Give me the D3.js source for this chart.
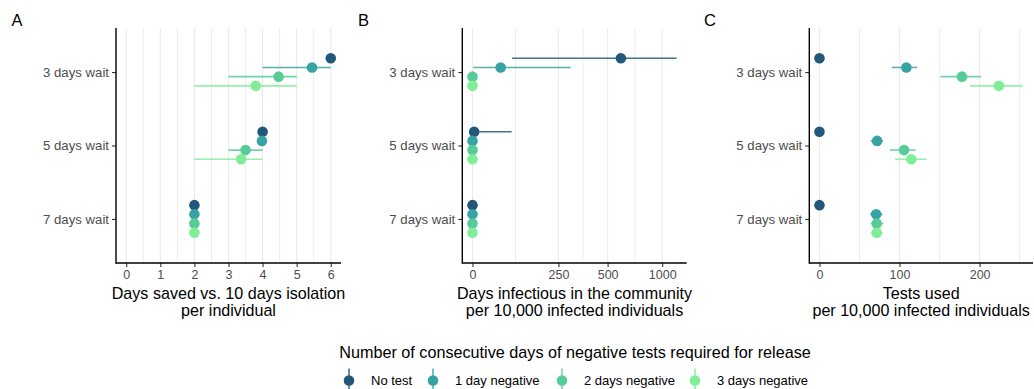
<!DOCTYPE html>
<html>
<head>
<meta charset="utf-8">
<script src="https://cdn.jsdelivr.net/npm/d3@7"></script>
<style>
  html, body { margin: 0; padding: 0; background: #fff; }
  svg { display: block; font-family: "Liberation Sans", Arial, Helvetica, sans-serif; }
</style>
</head>
<body>
<svg id="chart" width="1034" height="389"></svg>
<script>
// ---------------- DATA ----------------
const groups = ["3 days wait", "5 days wait", "7 days wait"];
const series = ["No test", "1 day negative", "2 days negative", "3 days negative"];
const colors = ["#22577A", "#38A3A5", "#57CC99", "#80ED99"];

// Panel A: days saved vs. 10 days isolation (per group: per series [mid, lo, hi])
const savedMid = [[6.0, 5.45, 4.47, 3.80], [4.0, 3.98, 3.50, 3.37], [2.0, 2.0, 2.0, 2.0]];
const savedLo  = [[6.0, 4.0, 3.0, 2.0],    [4.0, 4.0, 3.0, 2.0],    [2.0, 2.0, 2.0, 2.0]];
const savedHi  = [[6.0, 6.0, 5.0, 5.0],    [4.0, 4.0, 4.0, 4.0],    [2.0, 2.0, 2.0, 2.0]];

// Panel B: days infectious in the community per 10,000 infected individuals
const infMid = [[594, 70, 0, 0], [4, 0, 0, 0], [0, 0, 0, 0]];
const infLo  = [[100, 1.5, 0, 0], [0, 0, 0, 0], [0, 0, 0, 0]];
const infHi  = [[1194, 301, 0, 0], [99, 0, 0, 0], [0, 0, 0, 0]];

// Panel C: tests used per 10,000 infected individuals
const testMid = [[0, 108.5, 178, 224], [0, 72, 105.6, 114.7], [0, 70.8, 71.5, 71.5]];
const testLo  = [[0, 90.3, 151, 188],  [0, 64, 88, 94.4],     [0, 63.4, 64, 64]];
const testHi  = [[0, 122, 202, 254],   [0, 79.5, 120, 134],   [0, 78.7, 80, 79]];

const ticksA = [0, 1, 2, 3, 4, 5, 6];
const minorA = [0.5, 1.5, 2.5, 3.5, 4.5, 5.5];
const ticksB = [0, 250, 500, 1000];
const ticksC = [0, 100, 200];
const minorC = [50, 150, 250];

const panelLabels = ["A", "B", "C"];
const xTitles = [
  ["Days saved vs. 10 days isolation", "per individual"],
  ["Days infectious in the community", "per 10,000 infected individuals"],
  ["Tests used", "per 10,000 infected individuals"]
];
const legendTitle = "Number of consecutive days of negative tests required for release";

// ---------------- HELPERS ----------------
// pseudo-log scale (asinh(x / (2*sigma))) built on a d3 linear scale
function pseudoLogScale(sigma) {
  const t = v => Math.asinh(v / (2 * sigma));
  const lin = d3.scaleLinear();
  function s(v) { return lin(t(v)); }
  s.domain = function (d) { if (!arguments.length) return lin.domain().map(x => Math.sinh(x) * 2 * sigma); lin.domain(d.map(t)); return s; };
  s.range = function (r) { if (!arguments.length) return lin.range(); lin.range(r); return s; };
  s.copy = function () { return pseudoLogScale(sigma).domain(s.domain()).range(s.range()); };
  s.tLinear = lin; s.t = t;
  return s;
}

function flatten(mid, lo, hi) {
  const out = [];
  groups.forEach((g, gi) => series.forEach((sname, si) => {
    out.push({ group: g, series: sname, si, mid: mid[gi][si], lo: lo[gi][si], hi: hi[gi][si] });
  }));
  return out;
}

const svg = d3.select("#chart");
const yTop = 28, yBottom = 263;
const y = d3.scalePoint().domain(groups).range([yTop, yBottom]).padding(0.6);
const dodge = d3.scalePoint().domain(series).range([-13.8, 13.8]);
const color = d3.scaleOrdinal().domain(series).range(colors);

function drawPanel(opts) {
  const { x, x0, x1, data, ticks, minor, label, title, labelX } = opts;
  const g = svg.append("g");

  // grid
  g.append("g").selectAll("line").data(minor).join("line")
    .attr("x1", d => x(d)).attr("x2", d => x(d))
    .attr("y1", yTop).attr("y2", yBottom)
    .attr("stroke", "#ededed").attr("stroke-width", 1);
  g.append("g").selectAll("line").data(ticks).join("line")
    .attr("x1", d => x(d)).attr("x2", d => x(d))
    .attr("y1", yTop).attr("y2", yBottom)
    .attr("stroke", "#ebebeb").attr("stroke-width", 1.1);

  // ranges
  g.append("g").selectAll("line").data(data.filter(d => d.hi > d.lo)).join("line")
    .attr("x1", d => x(d.lo)).attr("x2", d => x(d.hi))
    .attr("y1", d => y(d.group) + dodge(d.series)).attr("y2", d => y(d.group) + dodge(d.series))
    .attr("stroke", d => color(d.series)).attr("stroke-width", 1.6).attr("stroke-opacity", 0.85);
  // points
  g.append("g").selectAll("circle").data(data).join("circle")
    .attr("cx", d => x(d.mid)).attr("cy", d => y(d.group) + dodge(d.series))
    .attr("r", 5.3).attr("fill", d => color(d.series));

  // x axis
  const ax = g.append("g").attr("transform", `translate(0,${yBottom})`)
    .call(d3.axisBottom(x).tickValues(ticks).tickSize(4).tickPadding(3).tickFormat(d3.format("d")));
  ax.select(".domain").remove();
  ax.selectAll(".tick line").attr("stroke", "#333").attr("stroke-width", 1.1);
  ax.selectAll(".tick text").attr("fill", "#4d4d4d").style("font-size", "12.5px")
    .style("font-family", "'Liberation Sans', Arial, sans-serif");
  g.append("line").attr("x1", x0).attr("x2", x1).attr("y1", yBottom).attr("y2", yBottom)
    .attr("stroke", "#000").attr("stroke-width", 1.4);

  // y axis
  const ay = g.append("g").attr("transform", `translate(${x0},0)`)
    .call(d3.axisLeft(y).tickSize(4).tickPadding(3));
  ay.select(".domain").remove();
  ay.selectAll(".tick line").attr("stroke", "#333").attr("stroke-width", 1.1);
  ay.selectAll(".tick text").attr("fill", "#4d4d4d").style("font-size", "13.2px")
    .style("font-family", "'Liberation Sans', Arial, sans-serif");
  g.append("line").attr("x1", x0).attr("x2", x0).attr("y1", yTop).attr("y2", yBottom + 0.7)
    .attr("stroke", "#000").attr("stroke-width", 1.4);

  // titles
  const cx = (x0 + x1) / 2;
  g.append("text").attr("x", cx).attr("y", 298.5).attr("text-anchor", "middle")
    .style("font-size", "16.1px").attr("fill", "#000").text(title[0]);
  g.append("text").attr("x", cx).attr("y", 316).attr("text-anchor", "middle")
    .style("font-size", "16.1px").attr("fill", "#000").text(title[1]);
  g.append("text").attr("x", labelX).attr("y", 25.5).style("font-size", "16.5px")
    .attr("fill", "#000").text(label);
}

function limits(vals) {
  const mx = d3.max(vals), mn = Math.min(0, d3.min(vals));
  const pad = (mx - mn) * 0.05;
  return [mn - pad, mx + pad];
}

// Panel A
const dataA = flatten(savedMid, savedLo, savedHi);
const xA = d3.scaleLinear().domain(limits(dataA.flatMap(d => [d.lo, d.hi, d.mid])))
  .range([116, 341]);
drawPanel({ x: xA, x0: 116, x1: 341, data: dataA, ticks: ticksA, minor: minorA, label: panelLabels[0], title: xTitles[0], labelX: 11.5 });

// Panel B (pseudo-log, sigma = 100)
const dataB = flatten(infMid, infLo, infHi);
const xB = pseudoLogScale(100);
{
  const tmax = xB.t(d3.max(dataB, d => d.hi));
  const pad = tmax * 0.05;
  xB.tLinear.domain([-pad, tmax + pad]).range([462.3, 686.7]);
}
const minorB = d3.pairs(ticksB).map(([a, b]) => Math.sinh((xB.t(a) + xB.t(b)) / 2) * 200);
drawPanel({ x: xB, x0: 462.3, x1: 686.7, data: dataB, ticks: ticksB, minor: minorB, label: panelLabels[1], title: xTitles[1], labelX: 358 });

// Panel C
const dataC = flatten(testMid, testLo, testHi);
const xC = d3.scaleLinear().domain(limits(dataC.flatMap(d => [d.lo, d.hi, d.mid])))
  .range([809.3, 1033]);
drawPanel({ x: xC, x0: 809.3, x1: 1033, data: dataC, ticks: ticksC, minor: minorC, label: panelLabels[2], title: xTitles[2], labelX: 704 });

// Legend
svg.append("text").attr("x", 575).attr("y", 358).attr("text-anchor", "middle")
  .style("font-size", "16.2px").attr("fill", "#000").text(legendTitle);
const legendKeyX = [349, 433, 562, 695];
const lg = svg.append("g").selectAll("g").data(series).join("g")
  .attr("transform", (d, i) => `translate(${legendKeyX[i]},380.5)`);
lg.append("line").attr("x1", 0).attr("x2", 0).attr("y1", -12).attr("y2", 12)
  .attr("stroke", d => color(d)).attr("stroke-width", 1.6).attr("stroke-opacity", 0.85);
lg.append("circle").attr("r", 5.3).attr("fill", d => color(d));
lg.append("text").attr("x", 22).attr("y", 4.5).style("font-size", "13px").attr("fill", "#000")
  .text(d => d);
</script>
</body>
</html>
